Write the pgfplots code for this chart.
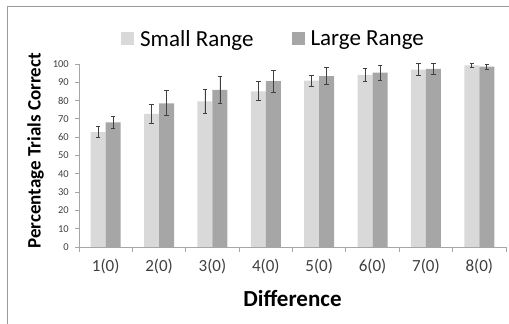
\documentclass[border=0pt]{standalone}
\usepackage{pgfplots}
\usepackage{pgfplotstable}
\pgfplotsset{compat=1.18}
\usepackage{fontspec}
\setmainfont{Carlito}
\definecolor{lightbar}{HTML}{D9D9D9}
\definecolor{darkbar}{HTML}{A6A6A6}
\definecolor{errc}{HTML}{404040}
\definecolor{axc}{HTML}{A6A6A6}
\definecolor{framec}{HTML}{9A9A9A}
\pgfplotstableread{
x  s     se   l     le
1  62.8  3.0  68.1  3.3
2  72.7  5.2  78.5  6.8
3  79.6  6.6  85.8  7.2
4  85.1  5.2  90.7  6.0
5  90.9  3.1  93.4  4.5
6  94.0  3.7  95.3  4.0
7  96.9  3.3  97.3  3.0
8  99.3  1.0  98.5  1.3
}\datatable
\pgfplotsset{myerr/.style={
  error bars/y dir=both, error bars/y explicit,
  error bars/error bar style={errc, line width=0.8pt},
  error bars/error mark options={errc, line width=0.8pt, mark size=2.3pt, rotate=90}}}
\begin{document}
\begin{tikzpicture}
\useasboundingbox (0pt,0pt) rectangle (509pt,324pt);
\draw[framec, line width=0.8pt] (7.5pt,0pt) -- (7.5pt,317.5pt) -- (509pt,317.5pt);
\begin{axis}[
  at={(79pt,77pt)}, anchor=south west,
  scale only axis, width=427pt, height=183pt,
  ybar=0pt, bar width=15pt,
  xmin=0.5, xmax=8.5, ymin=0, ymax=100,
  axis x line*=bottom, axis y line*=left,
  axis line style={axc, line width=0.8pt},
  xtick={1,...,8},
  xticklabels={1(0),2(0),3(0),4(0),5(0),6(0),7(0),8(0)},
  minor xtick={0.5,1.5,...,8.5},
  major x tick style={draw=none},
  minor x tick style={axc, line width=0.8pt},
  minor tick length=5pt,
  ytick={0,10,...,100},
  y tick style={axc, line width=0.8pt},
  major tick length=4pt,
  tick align=outside,
  /pgf/number format/assume math mode=true,
  yticklabel style={font=\fontsize{10.5}{12}\selectfont, text=errc, inner sep=0pt, xshift=-6pt},
  xticklabel style={font=\fontsize{17}{20}\selectfont, text=errc, inner sep=0pt, yshift=-8pt},
  xlabel={Difference},
  ylabel={Percentage Trials Correct},
  xlabel style={font=\bfseries\fontsize{23}{26}\selectfont, at={(axis description cs:0.5,-0.279)}, anchor=center},
  ylabel style={font=\bfseries\fontsize{19}{22}\selectfont, at={(axis description cs:-0.102,0.525)}, anchor=center},
  legend style={at={(axis description cs:0.4555,1.137)}, anchor=center, draw=none, fill=none,
     font=\fontsize{23}{26}\selectfont, legend columns=2,
     /tikz/every odd column/.append style={column sep=4pt},
     /tikz/every even column/.append style={column sep=36pt}},
  legend image code/.code={\fill[#1] (0pt,-6pt) rectangle (13pt,7pt);},
]
\addplot[fill=lightbar, draw=none, myerr] table[x=x, y=s, y error=se] {\datatable};
\addplot[fill=darkbar, draw=none, myerr] table[x=x, y=l, y error=le] {\datatable};
\legend{Small Range, Large Range}
\end{axis}
\end{tikzpicture}
\end{document}
